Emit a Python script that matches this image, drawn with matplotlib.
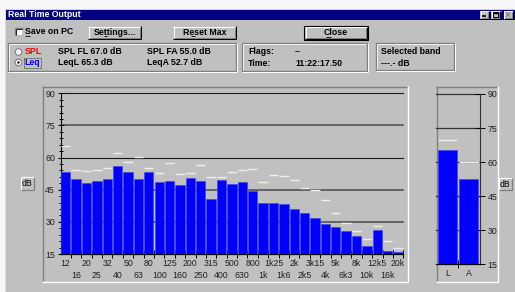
import matplotlib
matplotlib.use('Agg')
import matplotlib.pyplot as plt
from matplotlib.patches import Rectangle, Circle
from matplotlib.ticker import MultipleLocator, FixedLocator, NullFormatter
import numpy as np

plt.rcParams['font.family'] = ['Liberation Sans', 'DejaVu Sans']

# ---------------- data ----------------
bands = ['12', '16', '20', '25', '32', '40', '50', '63', '80', '100', '125', '160',
         '200', '250', '315', '400', '500', '630', '800', '1k', '1k25', '1k6', '2k',
         '2k5', '3k15', '4k', '5k', '6k3', '8k', '10k', '12k5', '16k', '20k']
levels = [53.1, 50.0, 48.3, 49.1, 50.0, 56.1, 53.1, 50.0, 53.1, 48.6, 49.1, 47.4,
          50.6, 49.1, 40.7, 49.4, 47.7, 48.6, 44.6, 38.8, 38.7, 38.2, 36.0,
          34.1, 31.6, 29.2, 27.8, 25.7, 23.3, 18.8, 26.4, 16.4, 16.1]
maxima = [65.3, 54.2, 53.9, 54.2, 55.3, 62.1, 58.1, 60.1, 55.0, 52.7, 57.3, 52.2,
          52.7, 56.4, 50.8, 51.1, 53.1, 54.2, 54.5, 48.5, 51.7, 51.3, 49.7,
          46.0, 44.7, 40.2, 34.3, 29.3, 25.6, 22.0, 28.1, 21.1, 17.7]
total_labels = ['L', 'A']
total_levels = [65.3, 52.7]
total_maxima = [69.9, 60.2]
y_ticks = [15, 30, 45, 60, 75, 90]
readout_spl = ['SPL FL 67.0 dB', 'SPL FA 55.0 dB']
readout_leq = ['LeqL 65.3 dB', 'LeqA 52.7 dB']
flags_text = '--'
time_text = '11:22:17.50'
band_text = '---.- dB'

W, H = 515, 292
GRAY = '#c0c0c0'
DARK = '#808080'
FS = 6.3

fig = plt.figure(figsize=(W / 100, H / 100), dpi=100, facecolor=GRAY)

def frect(x0, y0, x1, y1):
    return [x0 / W, 1 - y1 / H, (x1 - x0) / W, (y1 - y0) / H]

bg = fig.add_axes([0, 0, 1, 1], zorder=0)
bg.set_xlim(0, W)
bg.set_ylim(H, 0)
bg.axis('off')

def line(xs, ys, c, lw=0.75):
    bg.plot(xs, ys, color=c, lw=lw, solid_capstyle='butt')

def raised(x0, y0, x1, y1, default=False):
    bg.add_patch(Rectangle((x0, y0), x1 - x0, y1 - y0, fc=GRAY, ec='none'))
    if default:
        bg.add_patch(Rectangle((x0 - 1, y0 - 1), x1 - x0 + 2, y1 - y0 + 2, fc='none', ec='black', lw=0.8))
    line([x0, x1], [y0 + 0.5, y0 + 0.5], 'white')
    line([x0 + 0.5, x0 + 0.5], [y0, y1], 'white')
    line([x0, x1], [y1 - 0.5, y1 - 0.5], 'black')
    line([x1 - 0.5, x1 - 0.5], [y0, y1], 'black')
    line([x0 + 1, x1 - 1], [y1 - 1.5, y1 - 1.5], DARK)
    line([x1 - 1.5, x1 - 1.5], [y0 + 1, y1 - 1], DARK)

def sunken(x0, y0, x1, y1, fill=None):
    if fill:
        bg.add_patch(Rectangle((x0, y0), x1 - x0, y1 - y0, fc=fill, ec='none'))
    line([x0, x1], [y0 + 0.5, y0 + 0.5], DARK, 1.0)
    line([x0 + 0.5, x0 + 0.5], [y0, y1], DARK, 1.0)
    line([x0, x1 + 1], [y1 + 0.5, y1 + 0.5], 'white', 1.0)
    line([x1 + 0.5, x1 + 0.5], [y0, y1 + 1], 'white', 1.0)

def etched(x0, y0, x1, y1):
    bg.add_patch(Rectangle((x0, y0), x1 - x0, y1 - y0, fc='none', ec=DARK, lw=1.0))
    line([x0 + 1, x1 - 1], [y0 + 1.2, y0 + 1.2], 'white', 0.6)
    line([x0 + 1.2, x0 + 1.2], [y0 + 1, y1 - 1], 'white', 0.6)
    line([x0, x1 + 1], [y1 + 1, y1 + 1], 'white', 0.7)
    line([x1 + 1, x1 + 1], [y0, y1 + 1], 'white', 0.7)

def txt(x, y, s, color='black', bold=True, ha='left', size=FS):
    bg.text(x, y, s, color=color, fontsize=size, fontweight='bold' if bold else 'normal',
            ha=ha, va='center')

# outer white edges
bg.add_patch(Rectangle((0, 0), W, 8.5, fc='#f7f7f7', ec='none'))
bg.add_patch(Rectangle((0, 0), 5, H, fc='#f7f7f7', ec='none'))
line([5, W], [8.7, 8.7], '#dcdcdc', 0.7)
line([5.2, 5.2], [8.5, H], '#dcdcdc', 0.7)

# title bar
bg.add_patch(Rectangle((5.5, 9.3), W - 5.5, 11, fc='#000080', ec='none'))
txt(8, 14.9, 'Real Time Output', color='white')
for i, x0 in enumerate([480, 491, 503.5]):
    raised(x0, 10.5, x0 + 9.5, 19)
    if i == 0:
        line([x0 + 2.2, x0 + 5.5], [16.3, 16.3], 'black', 1.2)
    elif i == 1:
        bg.add_patch(Rectangle((x0 + 2, 12.3), 5.2, 4.6, fc='none', ec='black', lw=0.7))
        line([x0 + 2, x0 + 7.2], [12.7, 12.7], 'black', 1.0)
    else:
        line([x0 + 2.5, x0 + 6.5], [12.3, 16.7], DARK, 0.8)
        line([x0 + 2.5, x0 + 6.5], [16.7, 12.3], DARK, 0.8)

# checkbox
bg.add_patch(Rectangle((15, 28), 7, 7, fc='white', ec='none'))
line([15, 22.5], [28.3, 28.3], DARK, 1.0)
line([15.3, 15.3], [28, 35], DARK, 1.0)
line([16, 22], [29.2, 29.2], 'black', 0.6)
line([16.2, 16.2], [29, 34.5], 'black', 0.6)
txt(25, 32, 'Save on PC')
line([25.2, 29.5], [36, 36], 'black', 0.6)

# buttons
raised(88, 26, 141, 39)
txt(114.5, 32.3, 'Settings...', ha='center')
line([104.3, 107], [36.3, 36.3], 'black', 0.6)
raised(173, 26, 236, 39)
txt(204.5, 32.3, 'Reset Max', ha='center')
line([190.5, 195.3], [36.3, 36.3], 'black', 0.6)
raised(305, 26.5, 367, 39, default=True)
txt(336, 32.5, 'Close', ha='center')
line([325.5, 330.5], [36.5, 36.5], 'black', 0.6)

# group boxes
etched(7.5, 42.5, 236, 71)
etched(241.5, 42.5, 367, 71)
etched(375.5, 43, 454, 70)

# radio buttons
for cy, sel in [(52, False), (62.5, True)]:
    bg.add_patch(Circle((18.5, cy), 3.3, fc='white', ec=DARK, lw=0.8))
    if sel:
        bg.add_patch(Circle((18.5, cy), 1.2, fc='black', ec='none'))
txt(24.5, 52, 'SPL', color='#ff0000')
txt(24.5, 62.5, 'Leq', color='#0000ff')
bg.add_patch(Rectangle((23.5, 57.5), 17.5, 10, fc='none', ec='black', lw=0.5, ls=(0, (1, 1))))
txt(58, 52, readout_spl[0])
txt(147, 52, readout_spl[1])
txt(58, 62.5, readout_leq[0])
txt(147, 62.5, readout_leq[1])
txt(248, 52, 'Flags:')
txt(295, 52, flags_text)
txt(248, 63, 'Time:')
txt(295, 63, time_text)
txt(381, 52, 'Selected band')
txt(381, 63, band_text)

# chart panels
sunken(42, 86, 407, 281)
sunken(436, 86, 497, 281)

# dB buttons
for (x0, y0, x1, y1) in [(21, 177, 34, 190), (499, 178, 512, 190)]:
    bg.add_patch(Rectangle((x0, y0), x1 - x0, y1 - y0, fc=GRAY, ec='none'))
    line([x0, x1], [y0 + 0.4, y0 + 0.4], 'white', 0.9)
    line([x0 + 0.4, x0 + 0.4], [y0, y1], 'white', 0.9)
    line([x0, x1], [y1 - 0.4, y1 - 0.4], DARK, 0.9)
    line([x1 - 0.4, x1 - 0.4], [y0, y1], DARK, 0.9)
    txt((x0 + x1) / 2, (y0 + y1) / 2 + 0.3, 'dB', bold=False, ha='center')

# ---------------- main band chart ----------------
ax = fig.add_axes(frect(60.5, 93.3, 403.3, 254), zorder=2)
ax.set_facecolor('none')
x = np.arange(len(bands))
ax.set_xlim(-0.5, len(bands) - 0.5)
ax.set_ylim(15, 90)
for v in y_ticks[1:]:
    dark = v in (60, 90)
    ax.axhline(v, color='#1a1a1a' if dark else '#555555', lw=0.8 if dark else 1.2,
               zorder=1, clip_on=False)
ax.bar(x, levels, width=0.9, color='#0000ff', edgecolor='#3c3cff', linewidth=0.4, zorder=3)
ax.hlines(maxima, x - 0.45, x + 0.45, colors='#eeeeee', lw=1.0, zorder=4)
for s in ['top', 'right']:
    ax.spines[s].set_visible(False)
ax.spines['left'].set_color('black')
ax.spines['bottom'].set_color('black')
ax.spines['left'].set_linewidth(0.8)
ax.spines['bottom'].set_linewidth(0.9)
ax.set_yticks(y_ticks)
ax.set_yticklabels([str(v) for v in y_ticks])
ax.yaxis.set_minor_locator(MultipleLocator(3))
ax.tick_params(axis='y', which='major', direction='inout', length=5, width=0.7,
               labelsize=FS, pad=1.5, colors='black', labelcolor='#202020')
ax.tick_params(axis='y', which='minor', direction='inout', length=3.5, width=0.7, colors='black')
ax.set_xticks(np.arange(0.5, len(bands), 1))
ax.xaxis.set_major_formatter(NullFormatter())
ax.tick_params(axis='x', which='major', direction='inout', length=5.5, width=0.7, colors='black')
for i, lab in enumerate(bands):
    off = -9 if i % 2 == 0 else -21
    ax.annotate(lab, xy=(i, 0), xycoords=('data', 'axes fraction'),
                xytext=(0, off * 0.72), textcoords='offset points',
                ha='center', va='center', fontsize=FS, color='#202020')

# ---------------- total chart ----------------
ax2 = fig.add_axes(frect(436.3, 94, 480, 264.3), zorder=2)
ax2.set_facecolor('none')
xt = np.arange(len(total_labels))
ax2.set_xlim(-0.53, 1.54)
ax2.set_ylim(15, 90)
for v in y_ticks[1:]:
    ax2.axhline(v, color='#333333', lw=0.9, zorder=1, clip_on=False)
ax2.bar(xt, total_levels, width=0.89, color='#0000ff', edgecolor='#3c3cff', linewidth=0.4, zorder=3)
ax2.hlines(total_maxima, xt - 0.47, xt + 0.47, colors='#eeeeee', lw=1.0, zorder=4)
for s in ['top', 'left']:
    ax2.spines[s].set_visible(False)
ax2.spines['right'].set_color('#333333')
ax2.spines['right'].set_linewidth(0.8)
ax2.spines['bottom'].set_color('black')
ax2.spines['bottom'].set_linewidth(0.9)
ax2.yaxis.tick_right()
ax2.set_yticks(y_ticks)
ax2.set_yticklabels([str(v) for v in y_ticks])
ax2.tick_params(axis='y', which='major', direction='inout', length=7, width=0.7,
                labelsize=FS, pad=2, colors='black', labelcolor='#202020')
ax2.set_xticks([0.5])
ax2.xaxis.set_major_formatter(NullFormatter())
ax2.tick_params(axis='x', direction='inout', length=5.5, width=0.7, colors='black')
for i, lab in enumerate(total_labels):
    ax2.annotate(lab, xy=(i, 0), xycoords=('data', 'axes fraction'),
                 xytext=(0, -9 * 0.72), textcoords='offset points',
                 ha='center', va='center', fontsize=FS, color='#202020')

fig.savefig('out.png', dpi=100, facecolor=GRAY)
